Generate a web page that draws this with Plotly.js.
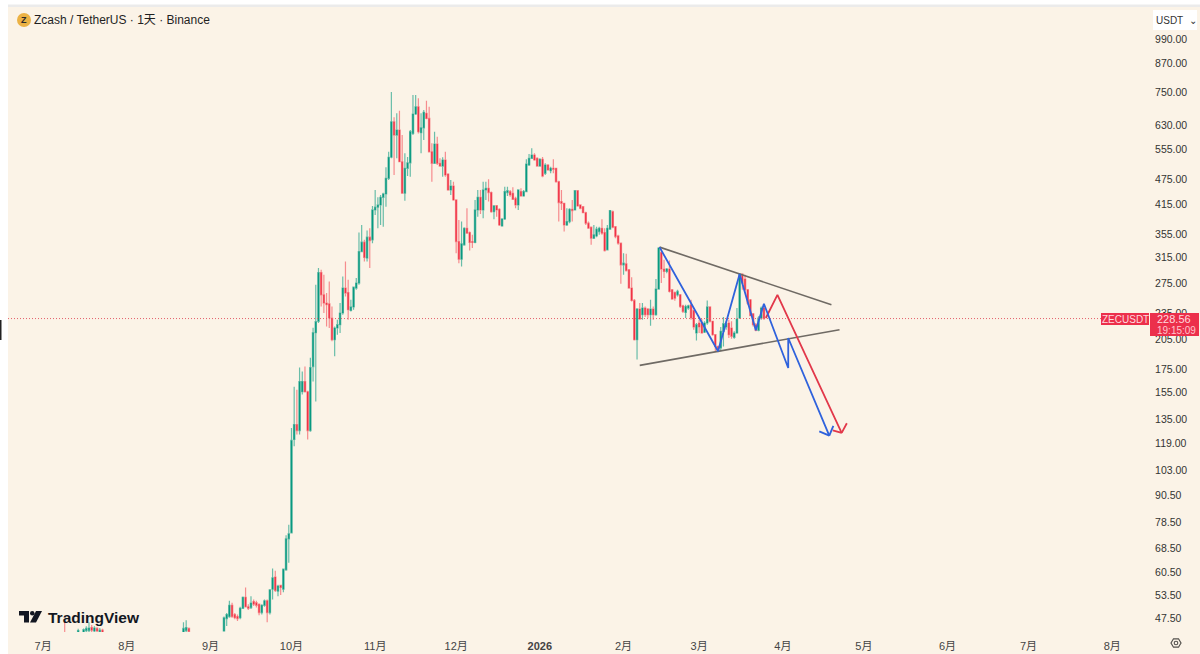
<!DOCTYPE html>
<html><head><meta charset="utf-8">
<script src="https://cdn.plot.ly/plotly-3.0.1.min.js"></script>
<style>html,body{margin:0;padding:0;background:#FBF3E7}#chart{width:1200px;height:654px}</style>
</head><body><div id="chart"></div>
<script>
const dates = [
"2025-07-09","2025-07-14","2025-07-16","2025-07-17","2025-07-18","2025-07-19","2025-07-20","2025-07-21","2025-07-22","2025-07-23",
"2025-08-22","2025-08-23","2025-08-24",
"2025-09-06","2025-09-07","2025-09-08","2025-09-09","2025-09-10","2025-09-11","2025-09-12","2025-09-13","2025-09-14","2025-09-15","2025-09-16","2025-09-17","2025-09-18","2025-09-19","2025-09-20","2025-09-21","2025-09-22","2025-09-23","2025-09-24","2025-09-25","2025-09-26","2025-09-27","2025-09-28","2025-09-29","2025-09-30",
"2025-10-01","2025-10-02","2025-10-03","2025-10-04","2025-10-05","2025-10-06","2025-10-07","2025-10-08","2025-10-09","2025-10-10","2025-10-11","2025-10-12","2025-10-13","2025-10-14","2025-10-15","2025-10-16","2025-10-17","2025-10-18","2025-10-19","2025-10-20","2025-10-21","2025-10-22","2025-10-23","2025-10-24","2025-10-25","2025-10-26","2025-10-27","2025-10-28","2025-10-29","2025-10-30","2025-10-31",
"2025-11-01","2025-11-02","2025-11-03","2025-11-04","2025-11-05","2025-11-06","2025-11-07","2025-11-08","2025-11-09","2025-11-10","2025-11-11","2025-11-12","2025-11-13","2025-11-14","2025-11-15","2025-11-16","2025-11-17","2025-11-18","2025-11-19","2025-11-20","2025-11-21","2025-11-22","2025-11-23","2025-11-24","2025-11-25","2025-11-26","2025-11-27","2025-11-28","2025-11-29","2025-11-30",
"2025-12-01","2025-12-02","2025-12-03","2025-12-04","2025-12-05","2025-12-06","2025-12-07","2025-12-08","2025-12-09","2025-12-10","2025-12-11","2025-12-12","2025-12-13","2025-12-14","2025-12-15","2025-12-16","2025-12-17","2025-12-18","2025-12-19","2025-12-20","2025-12-21","2025-12-22","2025-12-23","2025-12-24","2025-12-25","2025-12-26","2025-12-27","2025-12-28","2025-12-29","2025-12-30","2025-12-31",
"2026-01-01","2026-01-02","2026-01-03","2026-01-04","2026-01-05","2026-01-06","2026-01-07","2026-01-08","2026-01-09","2026-01-10","2026-01-11","2026-01-12","2026-01-13","2026-01-14","2026-01-15","2026-01-16","2026-01-17","2026-01-18","2026-01-19","2026-01-20","2026-01-21","2026-01-22","2026-01-23","2026-01-24","2026-01-25","2026-01-26","2026-01-27","2026-01-28","2026-01-29","2026-01-30","2026-01-31",
"2026-02-01","2026-02-02","2026-02-03","2026-02-04","2026-02-05","2026-02-06","2026-02-07","2026-02-08","2026-02-09","2026-02-10","2026-02-11","2026-02-12","2026-02-13","2026-02-14","2026-02-15","2026-02-16","2026-02-17","2026-02-18","2026-02-19","2026-02-20","2026-02-21","2026-02-22","2026-02-23","2026-02-24","2026-02-25","2026-02-26","2026-02-27","2026-02-28",
"2026-03-01","2026-03-02","2026-03-03","2026-03-04","2026-03-05","2026-03-06","2026-03-07","2026-03-08","2026-03-09","2026-03-10","2026-03-11","2026-03-12","2026-03-13","2026-03-14","2026-03-15","2026-03-16","2026-03-17","2026-03-18","2026-03-19","2026-03-20","2026-03-21","2026-03-22","2026-03-23","2026-03-24","2026-03-25"];

const opens = [
44,44.1,43.8,44.5,44.5,45.2,44.4,45,44.2,44.6,44,44.5,45,
44.4,47.4,47.9,50.8,48.4,47.9,47.6,50,53,50.4,50.2,51.8,51.5,51.1,48.9,50.8,52,48.9,55.3,58.9,54.7,56.4,55.3,61.2,72,
74.3,121.2,131.1,127,155.7,164.2,155.7,127,177.7,212.2,225.2,291,258.9,247.9,247,229.2,204.6,217.5,221.3,235.3,268.2,262,238.5,242.9,268.2,275.3,324.8,341.2,313.8,350.2,345.3,
404,409.8,414.7,431.7,439.3,476.9,532.5,641.6,598.4,614.3,520.2,440.9,502.6,517.3,603.6,668.2,694,605.6,621.5,670.6,653,548,515.8,570.9,515.8,508.6,524.9,487.7,448.6,458,
425.7,342.2,312.1,336.4,367,358.8,342.2,340.7,404,431.7,404,448.6,452.4,442.6,400.3,413.2,405.5,371.5,385.4,442.6,444.9,440.9,429.2,414.7,444.9,434.7,444.9,511.3,529.6,538.9,529.6,
508.6,526.8,489.5,511.3,496.3,502.6,502.6,468.5,422.1,418.3,373.5,380,405.5,404,447,414.7,411,398.2,376.9,369,348.4,352.6,360.7,367,358.8,327.7,365.2,400.3,370.1,352.6,339.4,
302.9,304.5,295.1,268.2,251.3,204.6,240.3,233.2,241.5,240.3,233.2,240.3,233.2,266.8,323,296.2,292.5,296.2,265.8,262,258.9,258.9,244.4,236,241.5,245.7,238.5,211.9,
223.3,223.3,212.7,223.3,242.9,225.2,210,197.5,196,213.7,218.7,223.3,217.5,207.1,211.9,229.2,288.6,281.2,265.8,252.2,234.4,221.3,214.9,229.2,241.5];

const highs = [
46.5,44.9,45,45.5,46.5,45.8,45.5,45.3,45.1,44.9,46.5,47,45.2,
47.9,48.8,52,51.5,48.8,48.4,50.4,53.2,55.8,51.1,53.3,52.4,52,51.3,51.1,52.4,52.4,55.3,61.6,60.9,56.6,56.6,61.4,73.4,77.5,
128.8,159.9,157.4,176.7,173.1,177.8,156.5,186.2,217.9,272.8,297.8,295.1,287.5,261.2,277.6,243.5,219.3,227.2,247.9,285,308.2,280.1,252.2,270.3,282.6,358.8,373.5,345.3,362.6,367,412.5,
448.6,431.7,437,442.3,505.2,548,750,656.6,670.6,679.6,598.4,543.7,533.2,614.3,738.2,738.2,725.7,670.6,682,716.7,694,573,609,593,529.6,532.5,548,489.5,472.7,468.5,
427.2,383.4,380,369,407.5,360.7,354.5,425.7,448.6,448.6,468.5,468.5,474.5,444.9,414.7,414.7,407.5,386.9,456.4,456.4,448.6,455,433,450.2,452.4,448.6,526.8,541.7,558,543.7,532.5,
529.6,533.2,515.8,514,506.8,526.8,504,471,448.6,419,407.5,407.5,425.7,448.6,448.6,416.2,412.5,400.3,380,370.1,373.5,370.1,370.1,384.8,367,373.5,404,402.6,371.5,354.5,340.7,
322,320.9,296.2,284,253.1,241.5,247.9,247.9,243.5,241.5,252.2,243.5,281.2,332.4,328.9,311,297.8,309.9,266.8,263.5,265.8,259.9,245.7,245.7,245.7,252.2,239.4,223.3,
227.2,228,225.2,251.3,243.5,226,210.8,198.3,218.7,230.4,225.2,227.2,225.2,213.7,241.5,290,290,287.5,266.8,253.1,235.3,223.3,231.2,243.5,245.7];

const lows = [
43,43.5,43,43.5,43.8,44,43.8,44,43.6,43.8,43.5,44,44.1,
44.2,45.6,47.6,47.6,47.2,46.8,47.2,49.9,50.2,49.6,49.8,50.6,50.2,48.2,48.4,50.4,46.5,48.4,52.4,54.5,53.3,53.6,54.4,60.9,63.5,
74,117,124.4,124.4,153.4,155,121.2,126.3,164.2,147.9,223.3,243.5,235.3,219.3,217.5,202.8,187.5,210,211.9,233.2,256.6,227.2,237.3,239.4,265.8,272.8,323.8,308.2,308.2,297.8,339.4,
393.6,367,373.5,370.1,411,472.7,529.6,485.2,529.6,520,440,424.1,482.6,480.8,598.4,664.7,603.6,543.7,582.9,650,547,468.5,514,511.3,506.8,480.8,480.8,447,437,424.1,
322,305.6,300.2,334.6,356.4,326.5,330.7,339.4,390,395.7,386.9,425.7,422.1,398.2,384.8,390,371.5,370.1,383.4,434.7,433,425.7,407.5,404,433,433,444,508.6,529,523,506.8,
506.8,479.3,485.2,496.3,489.5,489.5,466,380,404,360.7,371.5,376.9,380,402.6,411,405.5,397,373.5,366,336.4,347.1,350.2,354.5,354.5,324.8,326.5,363.9,367,348.4,336.4,274.2,
287.5,292.5,267.1,250,203.8,184.3,227.2,227.2,230.4,229.2,220.1,227.2,232,265.8,275.3,282.6,290,262,252.2,251,256.6,241.5,235.3,229.2,239.4,227.2,215.6,203.6,
211.9,211.1,211.9,221.3,224,208.9,192.5,191.5,192.5,197.5,215.6,206.4,205.6,205.6,211.1,228,265.8,263.5,245.7,231.2,219.3,213.7,213.7,227.2,227.2];

const closes = [
43.2,44.5,44.7,45,45.1,44.6,45.1,44.4,44.6,44,45,45.2,44.3,
47.6,48.4,50.8,47.9,47.6,47.4,50,53,50.4,50,51.4,51.1,50.8,48.9,50.8,52,48.9,55.1,58.7,54.9,56.2,55.8,61.4,72,73.9,
120.6,131.1,127,164.2,164.2,155.7,127,176.7,212.2,224.8,291,258.9,247.9,245.7,229.2,204.6,217.5,221.3,235.3,268.2,261.2,239.4,242.9,269.5,275.3,324.8,341.2,314.8,350.2,344,404,
409.8,414.7,431.7,439.3,476.9,532.5,641.6,598.4,614.3,520.2,440.9,502.6,517.3,609,668.2,694,609,621.5,674,653,548,515.8,570.9,515.8,508.6,524.9,485.2,448.6,458,425.7,
342.2,312.1,338.2,367,357.7,340.7,340.7,404,431.7,404,448.6,452.4,442.6,400.3,412.5,404,373.5,385.4,444.9,447,437,427.2,414.7,448.6,434.7,444.9,514,529.6,538.9,524.9,508.6,
526.8,482.6,511.3,498.1,502.6,500,468.5,419.8,418.3,373.5,380,405.5,402.6,447,412.5,407.5,398.2,376.9,367,348.4,354.5,365.2,367,357.7,326.5,367,402.6,369,351.3,339.4,302.9,
305.6,294,268.2,251.3,204.6,240.3,228,241.5,233.2,233.2,240.3,233.2,266.8,330.7,296.2,292.5,296.2,263.5,253.1,254.3,263.5,243.5,237.3,243.5,244.4,229.2,218.7,221.3,
218.7,211.9,223.3,242.9,225.2,210,197.5,192.5,213.7,222.5,222.5,210,208.2,211.9,228,288.6,275.3,265.8,247.9,232,221.3,214.9,229.2,241.5,228.56];

const upperDates = ["2026-02-14 08:00","2026-04-19"];
const upperPrices = [332.4,245.7];
const lowerDates = ["2026-02-07","2026-04-22"];
const lowerPrices = [178.8,215.6];
const blueDates = ["2026-02-14 08:00","2026-03-08","2026-03-16","2026-03-22","2026-03-25","2026-04-03","2026-04-03","2026-04-18 05:00","2026-04-14 12:00",null,"2026-04-18 05:00","2026-04-19 17:00"];
const bluePrices = [332.4,192.5,288.6,214.9,247,176.4,206.4,123.7,126.5,null,123.7,130.2];
const redDates = ["2026-03-25 17:00","2026-03-30","2026-04-22 19:00","2026-04-19 12:00",null,"2026-04-22 19:00","2026-04-24 17:00"];
const redPrices = [229.2,258.9,125.5,127.2,null,125.5,132];
const lastPrice = 228.56;
const lineDates = ["2025-06-18","2026-08-15"];

const priceTicks = [990,870,750,630,555,475,415,355,315,275,235,205,175,155,135,119,103,90.5,78.5,68.5,60.5,53.5,47.5];
const priceLabels = ["990.00","870.00","750.00","630.00","555.00","475.00","415.00","355.00","315.00","275.00","235.00","205.00","175.00","155.00","135.00","119.00","103.00","90.50","78.50","68.50","60.50","53.50","47.50"];
const timeTicks = ["2025-07-01","2025-08-01","2025-09-01","2025-10-01","2025-11-01","2025-12-01","2026-01-01","2026-02-01","2026-03-01","2026-04-01","2026-05-01","2026-06-01","2026-07-01","2026-08-01"];
const timeLabels = ["7月","8月","9月","10月","11月","12月","<b>2026</b>","2月","3月","4月","5月","6月","7月","8月"];

const CREAM="#FBF3E7", FONT='"Liberation Sans", "Noto Sans CJK SC", sans-serif';
const L=8,R=1150,T=8,B=632;
const px=x=>(x-L)/(R-L), py=y=>1-(y-T)/(B-T);
const rect=(x0,y0,x1,y1,c)=>({type:'rect',xref:'paper',yref:'paper',x0:px(x0),x1:px(x1),y0:py(y0),y1:py(y1),fillcolor:c,line:{width:0},layer:'above'});
const txt=(x,y,t,o={})=>({xref:'paper',yref:'paper',x:px(x),y:py(y),text:t,showarrow:false,xanchor:o.a||'left',yanchor:'middle',borderpad:0,
  font:{family:o.f||FONT,size:o.s||11,color:o.c||'#333'}});
const poly=(pts,c)=>({type:'path',xref:'paper',yref:'paper',layer:'above',fillcolor:c,line:{width:0},
  path:'M'+pts.map(p=>px(p[0])+','+py(p[1])).join('L')+'Z'});

const traces=[
 {type:'scatter',mode:'lines',x:lineDates,y:[lastPrice,lastPrice],line:{color:'#E4606C',width:1,dash:'1px,2px'},hoverinfo:'skip'},
 {type:'candlestick',x:dates,open:opens,high:highs,low:lows,close:closes,
  increasing:{line:{color:'rgba(8,153,129,0.6)',width:1.2},fillcolor:'#089981'},
  decreasing:{line:{color:'rgba(242,54,69,0.55)',width:1.2},fillcolor:'#EE2F48'}},
 {type:'scatter',mode:'lines',x:upperDates,y:upperPrices,line:{color:'#6F6A64',width:1.6}},
 {type:'scatter',mode:'lines',x:lowerDates,y:lowerPrices,line:{color:'#6F6A64',width:1.6}},
 {type:'scatter',mode:'lines',x:redDates,y:redPrices,connectgaps:false,line:{color:'#E2384A',width:1.8}},
 {type:'scatter',mode:'lines',x:blueDates,y:bluePrices,connectgaps:false,line:{color:'#2F62DC',width:1.8}}
];

const gear={type:'path',xref:'paper',yref:'paper',layer:'above',fillcolor:'rgba(0,0,0,0)',line:{color:'#55524E',width:1.2},
  path:'M'+[[1171,643],[1173.5,638.8],[1178.5,638.8],[1181,643],[1178.5,647.2],[1173.5,647.2]].map(p=>px(p[0])+','+py(p[1])).join('L')+'Z'};

const layout={
 width:1200,height:654,showlegend:false,paper_bgcolor:CREAM,plot_bgcolor:CREAM,
 margin:{l:L,r:1200-R,t:T,b:654-B,pad:0},
 font:{family:FONT,size:11,color:'#333'},
 title:{text:'Zcash / TetherUS · 1天 · Binance',x:34/1200,xanchor:'left',y:1-20/654,yanchor:'middle',font:{family:FONT,size:12,color:'#1f1f1f'}},
 xaxis:{type:'date',range:["2025-06-18","2026-08-15"],rangeslider:{visible:false},showgrid:false,zeroline:false,showline:false,
  tickmode:'array',tickvals:timeTicks,ticktext:timeLabels,ticks:'outside',ticklen:4,tickcolor:CREAM,tickangle:0,tickfont:{family:FONT,size:11,color:'#444'}},
 yaxis:{type:'log',range:[1.6451,3.0663],side:'right',showgrid:false,zeroline:false,showline:false,
  tickmode:'array',tickvals:priceTicks,ticktext:priceLabels,ticks:'outside',ticklen:2,tickcolor:CREAM,tickfont:{family:FONT,size:10.5,color:'#333'}},
 shapes:[
  rect(0,0,1200,7,'#FFFFFF'),rect(0,4.5,1200,7,'#EBEBEB'),rect(0,0,8,654,'#FFFFFF'),rect(0,320,1.5,340,'#222222'),
  {type:'circle',xref:'paper',yref:'paper',x0:px(17),x1:px(31),y0:py(13),y1:py(27),fillcolor:'#ECB244',line:{width:0},layer:'above'},
  rect(1153,10,1197,30,'#FFFFFF'),
  rect(1101,313,1149,325,'#EC2F4B'),rect(1150,313,1199,336,'#EC2F4B'),
  poly([[19,611],[29,611],[29,622.5],[24,622.5],[24,615.5],[19,615.5]],'#131722'),
  {type:'circle',xref:'paper',yref:'paper',x0:px(30),x1:px(34.5),y0:py(611),y1:py(615.5),fillcolor:'#131722',line:{width:0},layer:'above'},
  poly([[36,611],[42,611],[36,622.5],[30,622.5]],'#131722'),
  gear,
  {type:'circle',xref:'paper',yref:'paper',x0:px(1174.2),x1:px(1177.8),y0:py(641.2),y1:py(644.8),fillcolor:'rgba(0,0,0,0)',line:{color:'#55524E',width:1.1},layer:'above'}
 ],
 annotations:[
  txt(24,20,'<b>Z</b>',{a:'center',s:9,c:'#2a2a2a'}),
  txt(1155,20.5,'USDT',{s:10,c:'#333'}),
  txt(1193,20,'⌄',{a:'center',s:10,c:'#333',f:'DejaVu Sans'}),
  txt(1125,319.3,'ZECUSDT',{a:'center',s:10,c:'#FFD9DE'}),
  txt(1156,319,'228.56',{s:11,c:'#FFD9DE'}),
  txt(1156,330,'19:15:09',{s:10,c:'#FFC4CC'}),
  txt(46.5,617,'<b>TradingView</b>',{s:15.5,c:'#131722'})
 ]
};
Plotly.newPlot('chart',traces,layout,{displayModeBar:false,staticPlot:true});
</script></body></html>
